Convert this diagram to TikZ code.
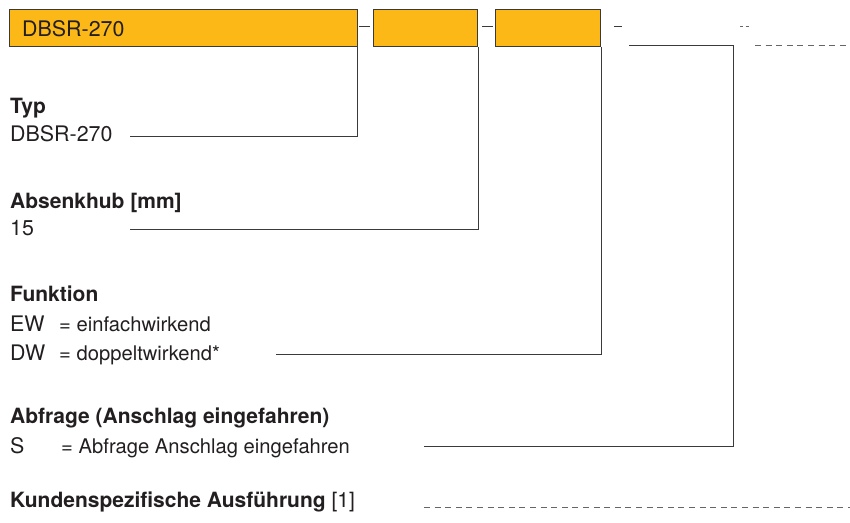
\documentclass[tikz,border=0pt]{standalone}
\usepackage{fontspec}
\setmainfont{TeX Gyre Heros}
\usetikzlibrary{positioning,calc}
\definecolor{codeorange}{HTML}{FBB817}
\definecolor{linegray}{HTML}{3A3A3A}
\definecolor{dashgray}{HTML}{666666}
\definecolor{textblack}{HTML}{231F20}

\begin{document}
\begin{tikzpicture}[x=1pt,y=-1pt,
	font=\fontsize{20.2}{24}\selectfont,text=textblack,
	codebox/.style={draw=linegray,line width=1pt,fill=codeorange,anchor=north west,inner sep=0pt,minimum height=36.7pt},
	connector/.style={draw=linegray,line width=1pt},
	blankline/.style={draw=dashgray,line width=1pt,dash pattern=on 6pt off 4.6pt},
	label/.style={anchor=base west,inner sep=0pt},
	head/.style={label,font=\fontsize{21}{24}\selectfont\bfseries},
	code/.style={label,font=\fontsize{21.4}{24}\selectfont}]

	\useasboundingbox (0,0) rectangle (850,522);

	% code boxes along the top
	\node[codebox,minimum width=347.4pt](typbox) at (9.3,9.3) {};
		\node[code] at (22,36) {DBSR-270};
	\node[codebox,minimum width=104.6pt](hubbox) at (372.7,9.3) {};
	\node[codebox,minimum width=105pt](funkbox) at (495.3,9.3) {};
		\coordinate (abfslot) at (629,45);
		\coordinate (abfslotend) at (733.3,45);
		\coordinate (kundslot) at (755,45);
		\coordinate (kundslotend) at (850,45);

	% separators
	\draw[connector] (359,26.7) -- (370,26.7);
	\draw[connector] (482.3,26.7) -- (493,26.7);
	\draw[connector] (614,26.7) -- (622.3,26.7);
	\draw[draw=dashgray,line width=1pt,dash pattern=on 3pt off 2.5pt] (740,26.7) -- (748.5,26.7);

	% legend
	\node[head](typ) at (10,113) {Typ};
	\node[code](typval) at (10,141.2) {DBSR-270};
		\coordinate (typline) at (130,136);

	\node[head](hub) at (10,208) {Absenkhub [mm]};
	\node[code](hubval) at (10,235) {15};
		\coordinate (hubline) at (130,229.3);

	\node[head](funk) at (10,301.7) {Funktion};
	\node[code](funkew) at (10,331) {EW};
	\node[label] at (59,331) {= einfachwirkend};
	\node[code](funkdw) at (10,360) {DW};
	\node[label] at (59,360) {= doppeltwirkend*};
		\coordinate (funkline) at (276,354.3);

	\node[head](abf) at (10,423) {Abfrage (Anschlag eingefahren)};
	\node[code](abfs) at (10,453) {S};
	\node[label] at (61,453) {= Abfrage Anschlag eingefahren};
		\coordinate (abfline) at (424,446);

	\node[head](kund) at (10,507) {Kundenspezifische Ausführung \mdseries[1]};
		\coordinate (kundline) at (424,507.3);
		\coordinate (kundlineend) at (850,507.3);

	% connectors
	\draw[connector] (typline) -| (typbox.south east);
	\draw[connector] (hubline) -| (hubbox.south east);
	\draw[connector] (funkline) -| (funkbox.south east);
	\draw[connector] (abfline) -| (abfslotend) -- (abfslot);
	\draw[blankline] (kundline) -- (kundlineend);
	\draw[blankline] (kundslot) -- (kundslotend);

\end{tikzpicture}
\end{document}
